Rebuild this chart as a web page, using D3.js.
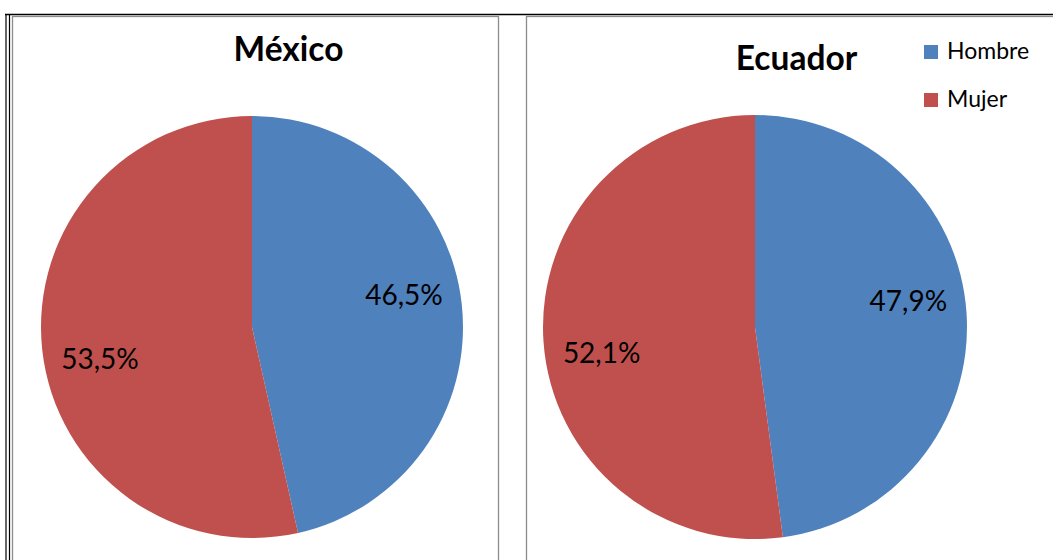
<!DOCTYPE html>
<html lang="es">
<head>
<meta charset="UTF-8">
<title>México / Ecuador</title>
<script src="https://d3js.org/d3.v7.min.js"></script>
<style>
    body { margin: 0; background: #fff; }
    svg { display: block; font-family: Lato, "Open Sans", sans-serif; }
    .title { font-size: 33.5px; font-weight: bold; text-anchor: middle; }
    .label { font-size: 28px; text-anchor: middle; }
    .legend text { font-size: 23px; }
</style>
</head>
<body>
<svg id="chart" width="1053" height="560"></svg>
<script>
// data
var categories = ["Hombre", "Mujer"];
var countries = ["México", "Ecuador"];
var mexico = [46.5, 53.5];
var ecuador = [47.9, 52.1];

var color = d3.scaleOrdinal().domain(categories).range(["#4F81BD", "#C0504D"]);

var svg = d3.select("#chart");

// outer frame lines (table look)
svg.append("line").attr("x1", 5).attr("x2", 1053).attr("y1", 14.5).attr("y2", 14.5)
    .attr("stroke", "#000").attr("stroke-width", 1.5);
svg.append("line").attr("x1", 6).attr("x2", 6).attr("y1", 14).attr("y2", 560)
    .attr("stroke", "#000").attr("stroke-width", 1.2);
svg.append("line").attr("x1", 9.5).attr("x2", 9.5).attr("y1", 14).attr("y2", 560)
    .attr("stroke", "#000").attr("stroke-width", 1.2);

// chart panels
var panels = [
    { name: countries[0], values: mexico, x0: 12.5, x1: 498.5, cx: 252, cy: 327, r: 211, tx: 288.5, ty: 61, legend: false },
    { name: countries[1], values: ecuador, x0: 526.5, x1: 1060, cx: 755, cy: 327, r: 212, tx: 796.5, ty: 70, legend: true }
];

var pie = d3.pie().sort(null).value(d => d.v);

panels.forEach(function(p) {
    var g = svg.append("g");

    // panel border
    g.append("rect")
        .attr("x", p.x0).attr("y", 16.5)
        .attr("width", p.x1 - p.x0).attr("height", 560)
        .attr("fill", "#fff")
        .attr("stroke", "#8c8c8c").attr("stroke-width", 1.3);

    g.append("text").attr("class", "title")
        .attr("x", p.tx).attr("y", p.ty)
        .text(p.name);

    var rows = categories.map((c, i) => ({ c: c, v: p.values[i] }));
    var arc = d3.arc().innerRadius(0).outerRadius(p.r);
    var labelArc = d3.arc().innerRadius(p.r * 0.725).outerRadius(p.r * 0.725);

    var pg = g.append("g").attr("transform", "translate(" + p.cx + "," + p.cy + ")");

    pg.selectAll("path")
        .data(pie(rows))
        .enter().append("path")
        .attr("d", arc)
        .attr("fill", d => color(d.data.c));

    // labels sit a bit further off the horizontal, like Excel's best fit
    pg.selectAll(".label")
        .data(pie(rows))
        .enter().append("text")
        .attr("class", "label")
        .attr("x", d => labelArc.centroid(d)[0])
        .attr("y", function(d) {
            var y = labelArc.centroid(d)[1];
            return y + (y < 0 ? -15.5 : 15.5) + 10;
        })
        .text(d => d3.format(".1f")(d.data.v).replace(".", ",") + "%");

    if (p.legend) {
        var lg = g.append("g").attr("class", "legend")
            .attr("transform", "translate(924,59)");
        var item = lg.selectAll("g")
            .data(categories)
            .enter().append("g")
            .attr("transform", (d, i) => "translate(0," + i * 48 + ")");
        item.append("rect")
            .attr("x", 0).attr("y", -14)
            .attr("width", 14).attr("height", 14)
            .attr("fill", d => color(d));
        item.append("text")
            .attr("x", 23).attr("y", 0)
            .text(d => d);
    }
});
</script>
</body>
</html>
